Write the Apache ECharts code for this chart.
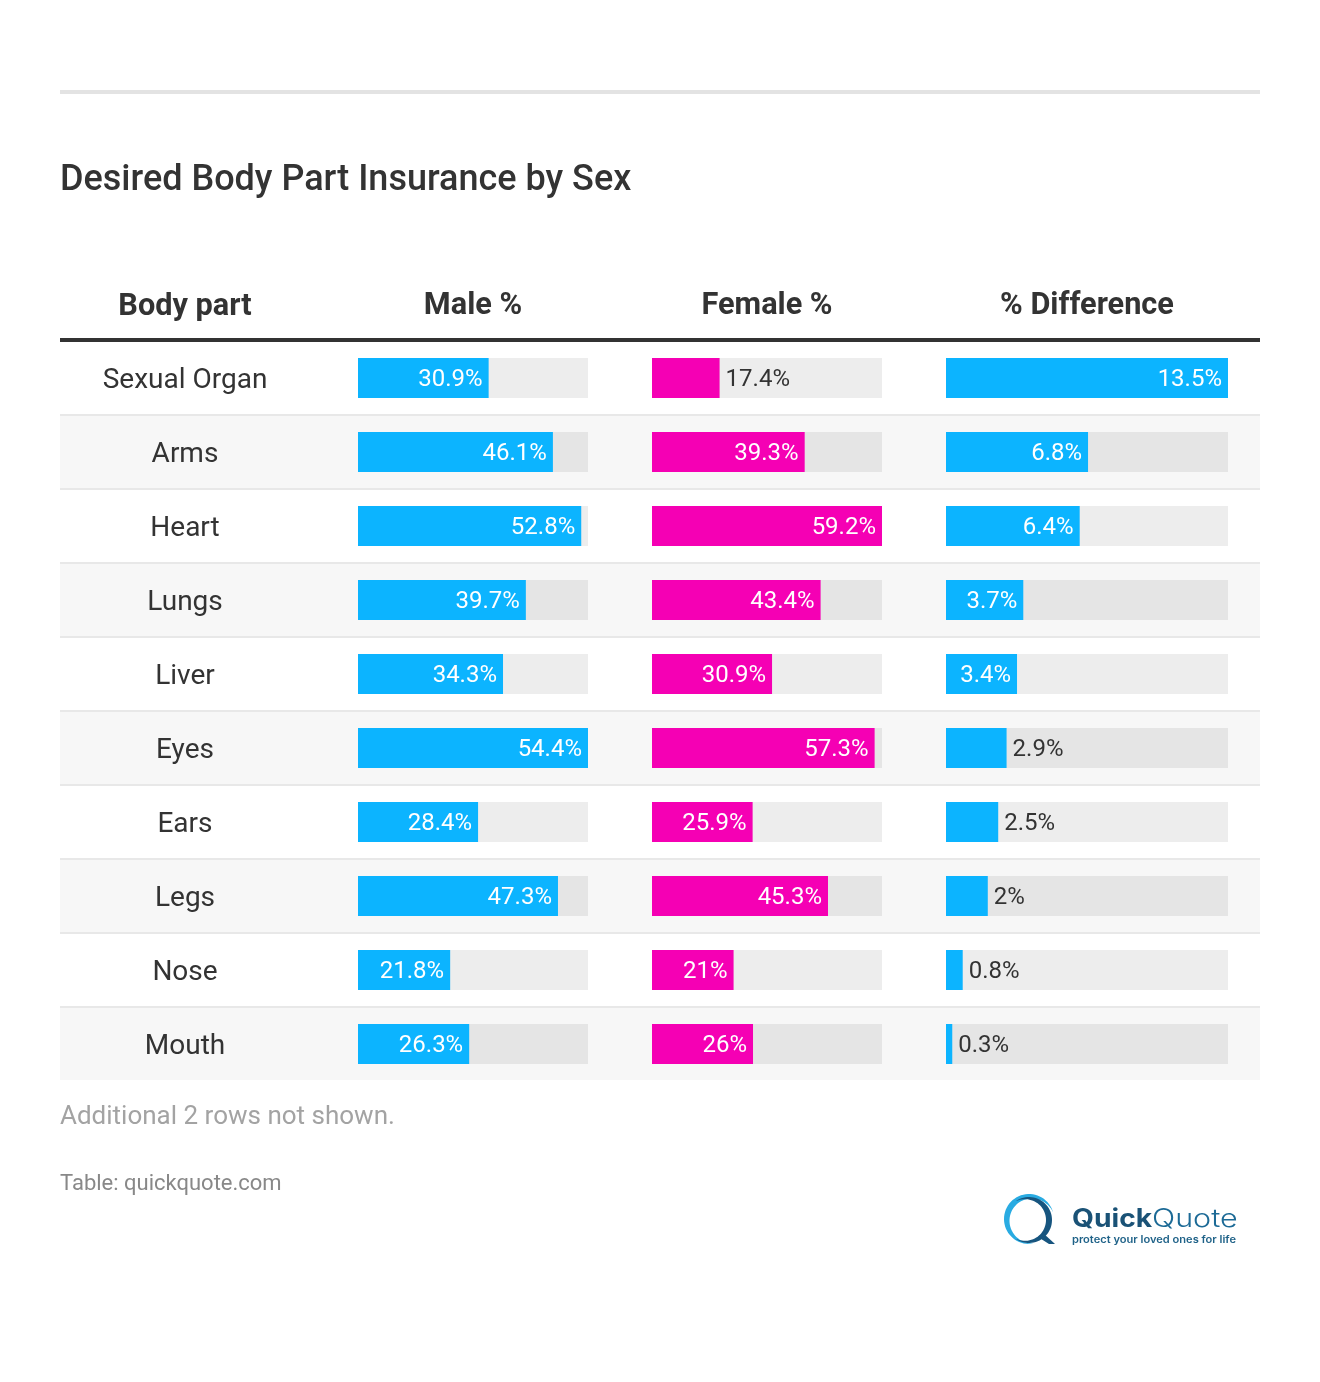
<!DOCTYPE html>
<html>
<head>
<meta charset="utf-8">
<title>Desired Body Part Insurance by Sex</title>
<script src="https://cdn.jsdelivr.net/npm/echarts@6/dist/echarts.min.js"></script>
<style>
html, body { margin: 0; padding: 0; background: #fff; }
#main { width: 1320px; height: 1382px; }
</style>
</head>
<body>
<div id="main"></div>
<script>
var bodyParts = ['Sexual Organ', 'Arms', 'Heart', 'Lungs', 'Liver', 'Eyes', 'Ears', 'Legs', 'Nose', 'Mouth'];
var maleValues = [30.9, 46.1, 52.8, 39.7, 34.3, 54.4, 28.4, 47.3, 21.8, 26.3];
var femaleValues = [17.4, 39.3, 59.2, 43.4, 30.9, 57.3, 25.9, 45.3, 21, 26];
var diffValues = [13.5, 6.8, 6.4, 3.7, 3.4, 2.9, 2.5, 2, 0.8, 0.3];
// rows whose bar is too short to hold the label
var maleOutside = [];
var femaleOutside = [0];
var diffOutside = [5, 6, 7, 8, 9];

var chart = echarts.init(document.getElementById('main'));
var font = 'Roboto';

function barData(values, outside) {
	return values.map(function (v, i) {
		var out = outside.indexOf(i) >= 0;
		return {
			value: v,
			label: {
				position: out ? 'right' : 'insideRight',
				color: out ? '#333333' : '#ffffff'
			}
		};
	});
}

function barSeries(idx, values, outside, color) {
	return {
		type: 'bar',
		xAxisIndex: idx,
		yAxisIndex: idx,
		barWidth: 40,
		showBackground: true,
		backgroundStyle: { color: 'rgba(0,0,0,0.07)' },
		itemStyle: { color: color },
		animation: false,
		label: {
			show: true,
			formatter: '{c}%',
			distance: 6,
			offset: [0, 2],
			fontFamily: font,
			fontSize: 24
		},
		data: barData(values, outside)
	};
}

function valueAxis(idx, name, max) {
	return {
		gridIndex: idx,
		type: 'value',
		position: 'top',
		min: 0,
		max: max,
		name: name,
		nameLocation: 'middle',
		nameGap: 19,
		nameTextStyle: { fontFamily: font, fontSize: 30.7, fontWeight: 'bold', color: '#333333' },
		axisLine: { show: false },
		axisTick: { show: false },
		axisLabel: { show: false },
		splitLine: { show: false }
	};
}

function categoryAxis(idx) {
	return {
		gridIndex: idx,
		type: 'category',
		inverse: true,
		data: bodyParts,
		axisLine: { show: false },
		axisTick: { show: false },
		axisLabel: { show: false }
	};
}

// tapered arc for the logo, drawn as a polygon
function crescent(cx, cy, r, a0, a1, thick) {
	var outer = [], inner = [], n = 48;
	for (var i = 0; i <= n; i++) {
		var t = i / n;
		var a = (a0 + (a1 - a0) * t) * Math.PI / 180;
		var w = thick * Math.sin(Math.PI * t);
		outer.push([cx + r * Math.cos(a), cy + r * Math.sin(a)]);
		inner.unshift([cx + (r - w) * Math.cos(a), cy + (r - w) * Math.sin(a)]);
	}
	return outer.concat(inner);
}

var rowAxis = categoryAxis(0);
rowAxis.splitArea = { show: true, areaStyle: { color: ['#ffffff', '#f7f7f7'] } };
rowAxis.splitLine = { show: true, showMinLine: false, showMaxLine: false, lineStyle: { color: '#e8e8e8', width: 2 } };
rowAxis.axisLabel = {
	show: true, inside: true, margin: 125, align: 'center',
	formatter: '{t|{value}}',
	rich: { t: { padding: [6, 0, 0, 0], fontFamily: font, fontSize: 28, color: '#333333' } }
};

var option = {
	backgroundColor: '#ffffff',
	animation: false,
	title: [
		{ text: 'Desired Body Part Insurance by Sex', left: 60, top: 163, padding: 0, textStyle: { fontFamily: font, fontSize: 36, fontWeight: 500, color: '#333333' } },
		{ text: 'Body part', left: 185, top: 292, padding: 0, textAlign: 'center', textStyle: { fontFamily: font, fontSize: 30.7, fontWeight: 'bold', color: '#333333' } },
		{ text: 'Additional 2 rows not shown.', left: 60, top: 1104, padding: 0, textStyle: { fontFamily: font, fontSize: 26, fontWeight: 'normal', color: '#a3a3a3' } },
		{ text: 'Table: quickquote.com', left: 60, top: 1173, padding: 0, textStyle: { fontFamily: font, fontSize: 22, fontWeight: 'normal', color: '#888888' } }
	],
	grid: [
		{ left: 60, width: 1200, top: 341, height: 740 },
		{ left: 358, width: 230, top: 341, height: 740 },
		{ left: 652, width: 230, top: 341, height: 740 },
		{ left: 946, width: 282, top: 341, height: 740 }
	],
	xAxis: [
		{ gridIndex: 0, type: 'value', position: 'top', min: 0, max: 1, offset: 1, axisLine: { show: true, onZero: false, lineStyle: { color: '#333333', width: 4, cap: 'butt' } }, axisTick: { show: false }, axisLabel: { show: false }, splitLine: { show: false } },
		valueAxis(1, 'Male %', 54.4),
		valueAxis(2, 'Female %', 59.2),
		valueAxis(3, '% Difference', 13.5)
	],
	yAxis: [rowAxis, categoryAxis(1), categoryAxis(2), categoryAxis(3)],
	series: [
		barSeries(1, maleValues, maleOutside, '#0cb4ff'),
		barSeries(2, femaleValues, femaleOutside, '#f500b4'),
		barSeries(3, diffValues, diffOutside, '#0cb4ff')
	],
	graphic: [
		{ type: 'rect', shape: { x: 60, y: 90, width: 1200, height: 4 }, style: { fill: '#e3e3e3' } },
		// table stops one pixel short of the last band
		{ type: 'rect', z: 5, shape: { x: 60, y: 1080, width: 1200, height: 2 }, style: { fill: '#ffffff' } },
		// logo
		{ type: 'polygon', shape: { points: crescent(1029, 1219, 25, -15, -280, 6) }, style: { fill: '#29abe2' } },
		{ type: 'polygon', shape: { points: crescent(1029, 1220, 23, -125, 125, 6) }, style: { fill: '#17557f' } },
		{ type: 'polygon', shape: { points: [[1043, 1233], [1055, 1244], [1049, 1244], [1038, 1237]] }, style: { fill: '#17557f' } },
		{ type: 'text', x: 1072, y: 1207, scaleX: 1.13, style: { text: 'Quick', fontFamily: 'Inter', fontSize: 25, fontWeight: 'bold', fill: '#1a5276' } },
		{ type: 'text', x: 1152, y: 1207, scaleX: 1.22, style: { text: 'Quote', fontFamily: 'Inter', fontSize: 25, fontWeight: 300, fill: '#1c6a96' } },
		{ type: 'text', x: 1072, y: 1235, scaleX: 1.11, style: { text: 'protect your loved ones for life', fontFamily: 'Inter', fontSize: 10, fontWeight: 600, fill: '#1f6288' } }
	]
};

chart.setOption(option);
</script>
</body>
</html>
